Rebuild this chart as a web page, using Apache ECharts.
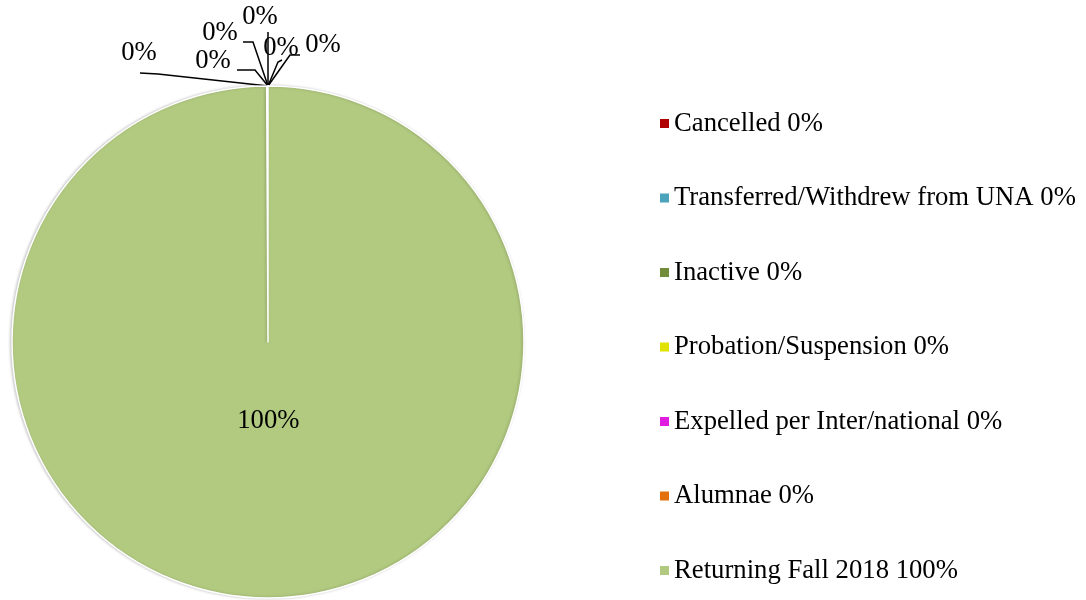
<!DOCTYPE html>
<html>
<head>
<meta charset="utf-8">
<script src="https://cdn.jsdelivr.net/npm/echarts@6/dist/echarts.min.js"></script>
<style>
  html, body { margin: 0; padding: 0; background: #fff; }
  #chart { width: 1086px; height: 600px; }
</style>
</head>
<body>
<div id="chart"></div>
<script>
// ---- data ----
const categories = [
  'Cancelled',
  'Transferred/Withdrew from UNA',
  'Inactive',
  'Probation/Suspension',
  'Expelled per Inter/national',
  'Alumnae',
  'Returning Fall 2018'
];
const values = [0, 0, 0, 0, 0, 0, 100];
const colors = ['#B00000', '#4BA3BC', '#718C3A', '#E2E200', '#E01CE0', '#E2700C', '#B2CA80'];

// ---- layout helpers (label placement only, relative to the slice anchor) ----
// [textDx, textDy, elbowDx, elbowDy, endDx, endDy]
const zeroLabelSpots = [
  [55, -41, 22, -31, 32, -31],
  [13, -38, 10, -24, 14, -26],
  [-8, -69, 0, -46, 0, -54],
  [-48, -53, -15, -44, -25, -44],
  [-55, -25, -13, -16, -31, -16],
  [-129, -33, -110, -12, -128, -13]
];

const total = values.reduce((a, b) => a + b, 0);
const pct = v => Math.round(v / total * 100);

const chart = echarts.init(document.getElementById('chart'));
const FONT = '"Liberation Serif", "Times New Roman", serif';

chart.setOption({
  animation: false,
  color: colors,
  legend: {
    orient: 'vertical',
    left: 655,
    top: 105,
    icon: 'rect',
    itemWidth: 9,
    itemHeight: 9,
    itemGap: 47.5,
    selectedMode: false,
    data: categories,
    itemStyle: { borderWidth: 0, shadowBlur: 0 },
    formatter: name => name + ' ' + pct(values[categories.indexOf(name)]) + '%',
    textStyle: { fontFamily: FONT, fontSize: 26.7, lineHeight: 26, color: '#000' }
  },
  series: [{
    type: 'pie',
    center: [268, 342],
    radius: 256,
    startAngle: 90,
    endAngle: -269.7,
    clockwise: true,
    avoidLabelOverlap: false,
    itemStyle: {
      borderColor: '#fff',
      borderWidth: 1.5,
      shadowBlur: 3,
      shadowOffsetX: -1,
      shadowColor: 'rgba(0,0,0,0.22)'
    },
    label: {
      show: true,
      position: 'outside',
      fontFamily: FONT,
      fontSize: 26.7,
      color: '#000',
      formatter: p => pct(p.value) + '%'
    },
    labelLine: { show: true, length: 10, length2: 10, lineStyle: { color: '#000', width: 1.5 } },
    emphasis: { disabled: true },
    data: categories.map((c, i) => {
      const item = { name: c, value: values[i] };
      if (values[i] === total) {
        item.label = { position: 'inside' };
        item.labelLine = { show: false };
      }
      return item;
    }),
    labelLayout: function (params) {
      const i = params.dataIndex;
      if (values[i] === total) {
        return { dy: -52 };
      }
      const s = zeroLabelSpots[i % zeroLabelSpots.length];
      const a = params.labelLinePoints ? params.labelLinePoints[0] : [268, 86];
      return {
        x: a[0] + s[0],
        y: a[1] + s[1],
        align: 'center',
        verticalAlign: 'middle',
        labelLinePoints: [
          [a[0], a[1]],
          [a[0] + s[2], a[1] + s[3]],
          [a[0] + s[4], a[1] + s[5]]
        ]
      };
    }
  }]
});
</script>
</body>
</html>
